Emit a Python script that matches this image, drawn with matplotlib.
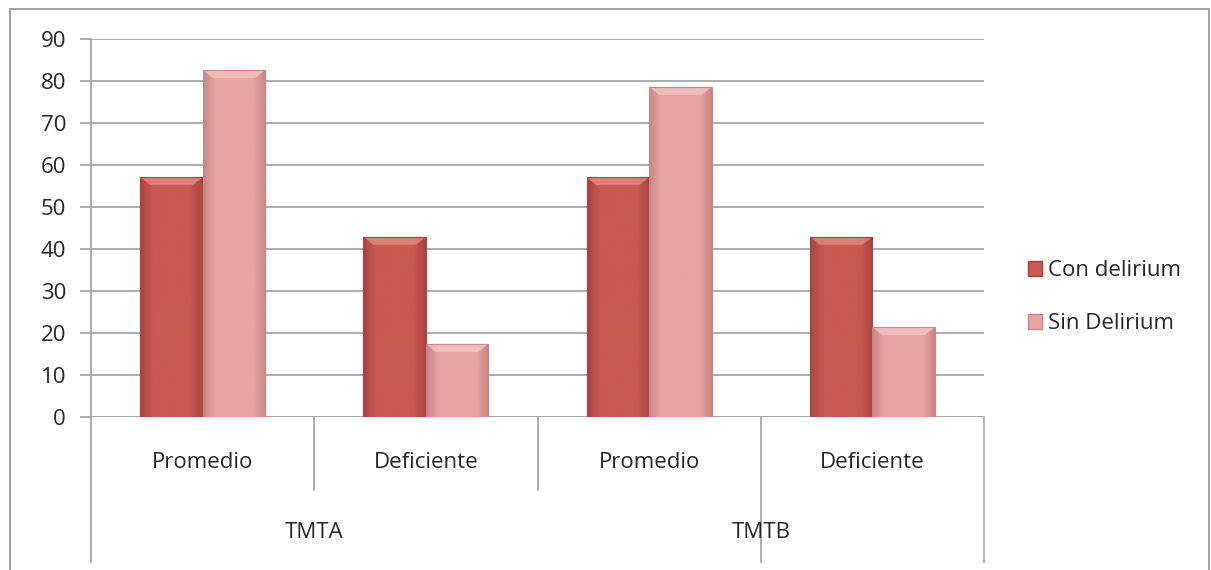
import numpy as np
import matplotlib
matplotlib.use("Agg")
import matplotlib.pyplot as plt
from matplotlib.patches import Rectangle, Polygon
from matplotlib.colors import LinearSegmentedColormap
from matplotlib.transforms import blended_transform_factory

plt.rcParams['font.family'] = ['Open Sans', 'DejaVu Sans']

# Data
subcategories = ["Promedio", "Deficiente", "Promedio", "Deficiente"]
groups = ["TMTA", "TMTB"]
series_names = ["Con delirium", "Sin Delirium"]
con_delirium = [57.1, 42.9, 57.1, 42.9]
sin_delirium = [82.6, 17.4, 78.6, 21.4]
y_ticks = [0, 10, 20, 30, 40, 50, 60, 70, 80, 90]

W, H = 1211, 570
FS = 16
TXT = "#262626"
fig = plt.figure(figsize=(W / 100, H / 100), dpi=100)
fig.patch.set_facecolor("white")

# outer chart frame
fig.add_artist(Rectangle((10 / W, -0.01), (1209 - 10) / W, (H - 9) / H + 0.01,
                         transform=fig.transFigure, fill=False,
                         edgecolor="#9a9a9a", linewidth=1.3))

ax = fig.add_axes([91 / W, (H - 417) / H, (984 - 91) / W, (417 - 39) / H])
ax.set_xlim(-0.5, 3.5)
ax.set_ylim(0, 90)

grid_color = "#a6a6a6"
for s in ["top", "right", "bottom"]:
    ax.spines[s].set_visible(False)
ax.spines["left"].set_color(grid_color)
ax.spines["left"].set_linewidth(1.3)
ax.set_yticks(y_ticks)
ax.tick_params(axis="y", direction="out", length=8, width=1.3, color=grid_color,
               labelsize=FS, labelcolor=TXT, pad=10)
ax.set_xticks([])
ax.yaxis.grid(True, color=grid_color, linewidth=1.3)
ax.set_axisbelow(True)
ax.axhline(0, color=grid_color, linewidth=1.3, zorder=1)

x = np.arange(len(subcategories))
bw = 0.28
colors = [("#c85a52", "#a8433d", "#e08a84"), ("#e6a4a2", "#c98684", "#f3c4c2")]

# size of one pixel in data units
ppx_x = 4.0 / (984 - 91)
ppx_y = 90.0 / (417 - 39)


def gradient_bar(rect, base, dark, light):
    cmap = LinearSegmentedColormap.from_list("b", [dark, base, base, base, base, dark])
    grad = np.linspace(0, 1, 256).reshape(1, -1)
    x0, y0 = rect.get_x(), rect.get_y()
    w, h = rect.get_width(), rect.get_height()
    im = ax.imshow(grad, cmap=cmap, aspect="auto", extent=(x0, x0 + w, y0, y0 + h),
                   zorder=2, interpolation="bicubic")
    im.set_clip_path(rect)
    # bevel along the top edge
    bx, by = 10 * ppx_x, 8 * ppx_y
    top = y0 + h
    ax.add_patch(Polygon([(x0, top), (x0 + w, top), (x0 + w - bx, top - by),
                          (x0 + bx, top - by)], closed=True,
                         facecolor=light, edgecolor="none", alpha=0.8, zorder=3))


for i, (vals, (base, dark, light)) in enumerate(zip([con_delirium, sin_delirium], colors)):
    offs = x - bw / 2 + i * bw
    bars = ax.bar(offs, vals, width=bw, color=base, edgecolor="none", zorder=2,
                  label=series_names[i])
    for b in bars:
        gradient_bar(b, base, dark, light)
        ax.add_patch(Rectangle((b.get_x(), 0), b.get_width(), b.get_height(),
                               fill=False, edgecolor=dark, linewidth=0.8, zorder=4))

ax.set_xlim(-0.5, 3.5)
ax.set_ylim(0, 90)

# category axis with two label levels
tr = blended_transform_factory(ax.transData, ax.transAxes)
px = 1 / (417 - 39)
for xv in [0.5, 1.5]:
    ax.plot([xv, xv], [0, -73 * px], color=grid_color, lw=1.3, transform=tr, clip_on=False)
for xv in [-0.5, 2.5, 3.5]:
    ax.plot([xv, xv], [0, -145 * px], color=grid_color, lw=1.3, transform=tr, clip_on=False)
for xv, lab in zip(x, subcategories):
    ax.text(xv, -45 * px, lab, transform=tr, ha="center", va="center",
            fontsize=FS, color=TXT)
for gi, g in enumerate(groups):
    ax.text(gi * 2 + 0.5, -116 * px, g, transform=tr, ha="center", va="center",
            fontsize=FS, color=TXT)

# legend
leg_handles = [Rectangle((0, 0), 1, 1, facecolor=c[0], edgecolor=c[1]) for c in colors]
fig.legend(leg_handles, series_names, loc="center left",
           bbox_to_anchor=(1008 / W, 1 - 297 / H), frameon=False, fontsize=FS,
           handlelength=0.65, handleheight=0.65, handletextpad=0.25, labelspacing=1.45,
           labelcolor=TXT)

fig.savefig("out.png", dpi=100, facecolor="white")
